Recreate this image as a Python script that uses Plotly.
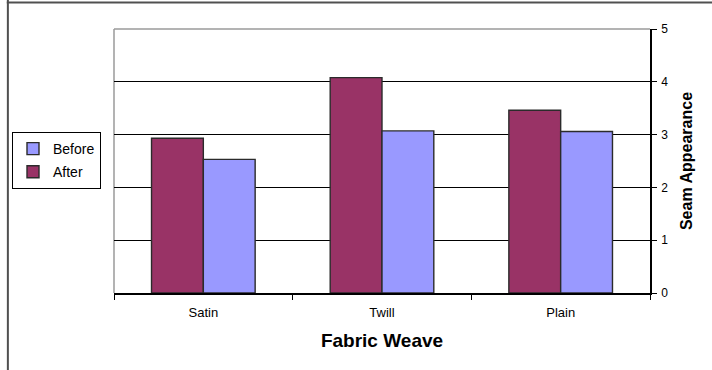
import plotly.graph_objects as go

weaves = ["Satin", "Twill", "Plain"]
after = [2.93, 4.08, 3.46]
before = [2.53, 3.07, 3.06]
y_ticks = [0, 1, 2, 3, 4, 5]

FONT = "Liberation Sans, Arial, sans-serif"

fig = go.Figure()
fig.add_trace(go.Bar(
    name="After", x=weaves, y=after, legendgroup="a", legendrank=2,
    marker=dict(color="#993366", line=dict(color="#2b2b2b", width=1.4)),
))
fig.add_trace(go.Bar(
    name="Before", x=weaves, y=before, legendgroup="b", legendrank=1,
    marker=dict(color="#9999FF", line=dict(color="#2b2b2b", width=1.4)),
))

# outer chart frame (top and left edges visible)
fig.add_shape(type="line", xref="paper", yref="paper", x0=-0.20, x1=1.2,
              y0=1.1, y1=1.1, line=dict(color="#505050", width=2))
fig.add_shape(type="line", xref="paper", yref="paper", x0=-0.198, x1=-0.198,
              y0=1.2, y1=-0.35, line=dict(color="#505050", width=2))

# grey plot-area border on top and left
fig.add_shape(type="line", xref="paper", yref="paper", x0=0, x1=1, y0=1, y1=1,
              line=dict(color="#9a9a9a", width=1.5), layer="below")
fig.add_shape(type="line", xref="paper", yref="paper", x0=0, x1=0, y0=0, y1=1,
              line=dict(color="#9a9a9a", width=1.5), layer="below")

fig.update_layout(
    width=712, height=370,
    margin=dict(l=114, r=62, t=29, b=77),
    paper_bgcolor="white", plot_bgcolor="white",
    barmode="group", bargap=0.42, bargroupgap=0,
    font=dict(family=FONT, color="black"),
    showlegend=True,
    legend=dict(
        xref="container", yref="container",
        x=12 / 712, y=1 - 132 / 370, xanchor="left", yanchor="top",
        traceorder="grouped", tracegroupgap=2, itemwidth=30,
        bordercolor="black", borderwidth=1, bgcolor="white",
        font=dict(size=14, family=FONT),
    ),
    xaxis=dict(
        title=dict(text="<b>Fabric Weave</b>", font=dict(size=19), standoff=14),
        tickfont=dict(size=13), tickson="boundaries", ticklabelstandoff=7,
        ticks="outside", ticklen=5, tickcolor="black",
        showline=True, linecolor="black", linewidth=1.5,
        showgrid=False, zeroline=False,
    ),
    yaxis=dict(
        side="right", range=[0, 5], tickvals=y_ticks,
        title=dict(text="<b>Seam Appearance</b>", font=dict(size=16), standoff=14),
        tickfont=dict(size=12), ticks="outside", ticklen=5, tickcolor="black",
        ticklabelstandoff=2,
        showline=True, linecolor="black", linewidth=1.5,
        showgrid=True, gridcolor="black", gridwidth=1,
        zeroline=False,
    ),
)

fig.write_html("out.html")
